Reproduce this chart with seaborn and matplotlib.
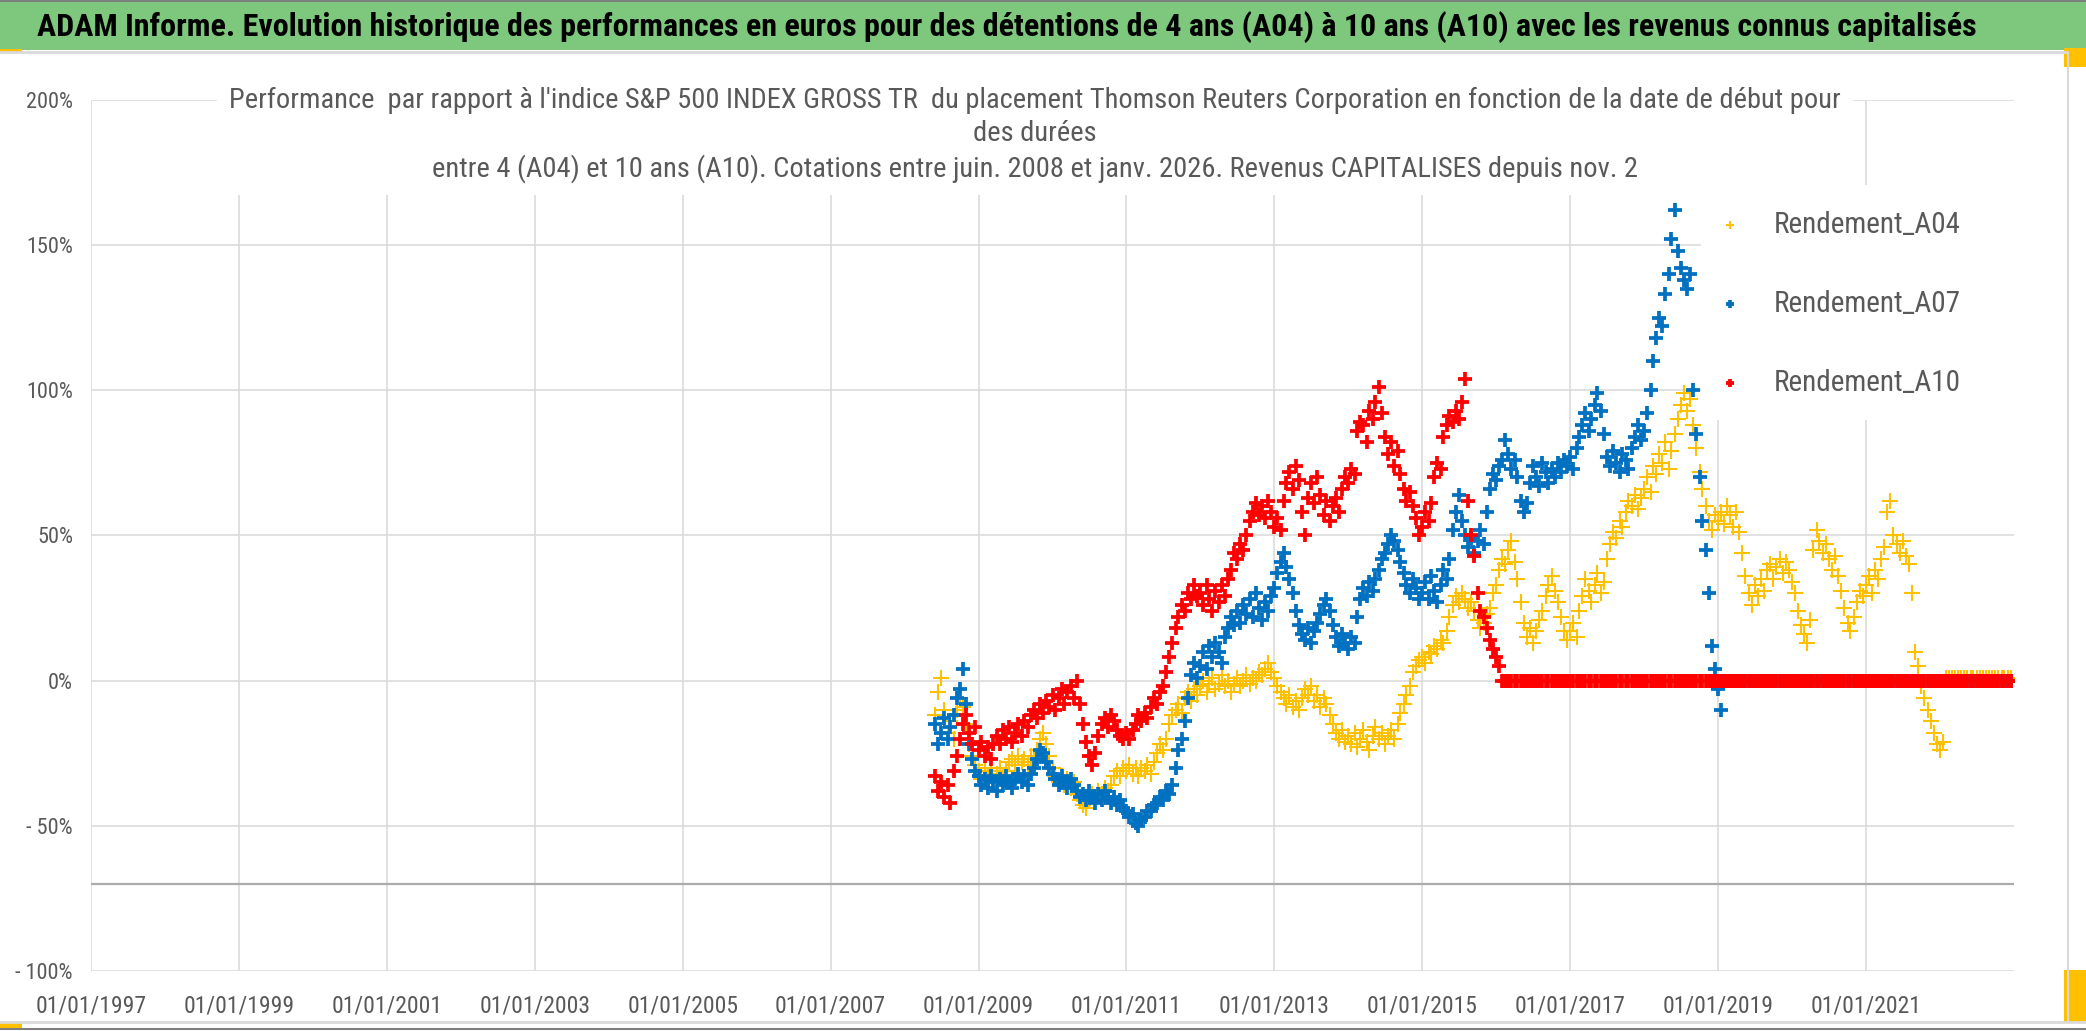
"""Performance chart A04 / A07 / A10 vs S&P 500 (Thomson Reuters)."""

import matplotlib
matplotlib.use("Agg")

import matplotlib.pyplot as plt
import pandas as pd
import seaborn as sns
from matplotlib import font_manager
from matplotlib.lines import Line2D
from matplotlib.patches import Rectangle

# ---------------------------------------------------------------- data
header_text = ("ADAM Informe. Evolution historique des performances en euros pour des "
               "détentions de 4 ans (A04) à 10 ans (A10) avec les revenus connus capitalisés")
chart_title = ("Performance  par rapport à l'indice S&P 500 INDEX GROSS TR  du placement "
               "Thomson Reuters Corporation en fonction de la date de début pour\n"
               "des durées\n"
               "entre 4 (A04) et 10 ans (A10). Cotations entre juin. 2008 et janv. 2026. "
               "Revenus CAPITALISES depuis nov. 2")

series_names = ["Rendement_A04", "Rendement_A07", "Rendement_A10"]
series_colors = ["#FFC000", "#0070C0", "#FF0000"]

# start dates: 1st and 15th of each month, juin 2008 -> déc. 2022
first_date = "2008-06-01"
last_date = "2022-12-15"

# performance in %, one row per year (2008 starts in June)
rendement_a04 = [
    -12, -4, 1, -10, -18, -14, -20, -10, -6, -9, -15, -22, -26, -29,
    -31, -34, -30, -33, -31, -35, -32, -30, -33, -31, -28, -27, -29, -26, -28, -27, -29, -26, -27, -24, -20, -18, -22, -26,
    -30, -33, -35, -33, -36, -34, -37, -35, -39, -41, -43, -44, -41, -39, -40, -38, -39, -37, -38, -36, -33, -31, -33, -30,
    -31, -29, -32, -30, -33, -30, -31, -29, -32, -28, -25, -22, -24, -20, -15, -12, -10, -8, -11, -6, -4, -7, -3, -5,
    -2, 0, -4, -1, 1, -3, -1, 2, -2, 0, -4, -1, 1, -2, 0, 2, -1, 1, 0, 3, 2, 4, 6, 3,
    1, -2, -4, -6, -8, -5, -9, -7, -10, -6, -3, -5, -2, -7, -5, -9, -6, -8, -12, -15, -18, -20, -17, -21,
    -19, -22, -18, -23, -20, -17, -21, -24, -19, -16, -20, -18, -22, -19, -17, -20, -15, -11, -8, -5, -2, 3, 5, 7,
    8, 6, 10, 9, 12, 11, 14, 13, 17, 22, 26, 29, 27, 30, 28, 25, 27, 24, 21, 18, 20, 23, 25, 30,
    33, 38, 42, 40, 45, 48, 41, 35, 27, 20, 15, 18, 13, 17, 21, 24, 29, 33, 36, 31, 27, 22, 17, 14,
    17, 20, 15, 24, 29, 35, 31, 27, 33, 37, 30, 34, 42, 47, 51, 49, 55, 53, 58, 62, 60, 64, 59, 63,
    66, 70, 65, 74, 71, 78, 75, 82, 73, 79, 85, 90, 95, 99, 93, 97, 88, 80, 72, 66, 60, 55, 52, 57,
    55, 58, 54, 60, 57, 53, 58, 51, 44, 36, 30, 26, 33, 29, 35, 31, 38, 40, 35, 39, 42, 37, 41, 38,
    34, 30, 24, 19, 16, 13, 21, 45, 52, 48, 44, 47, 42, 38, 43, 36, 31, 25, 20, 17, 22, 27, 31, 29,
    33, 36, 30, 38, 35, 42, 46, 58, 62, 50, 47, 44, 48, 43, 40, 30, 10, 5, -2, -6, -10, -14, -18, -22,
    -24, -21, 1, 1, 1, 1, 1, 1, 1, 1, 1, 1, 1, 1, 1, 1, 1, 1, 1, 1, 1, 1, 1, 1,
]

rendement_a07 = [
    -15, -22, -18, -13, -20, -16, -12, -6, -3, 4, -8, -22, -27, -31,
    -33, -36, -34, -37, -33, -35, -38, -34, -36, -33, -35, -37, -34, -32, -35, -33, -36, -32, -30, -27, -24, -25, -28, -30,
    -32, -34, -36, -33, -35, -37, -34, -36, -38, -40, -39, -41, -38, -40, -42, -39, -41, -38, -40, -42, -40, -43, -41, -44,
    -45, -47, -46, -49, -50, -48, -47, -45, -45, -43, -42, -40, -41, -38, -39, -36, -30, -24, -20, -14, -6, 2, 6, 1,
    5, 10, 4, 12, 8, 13, 10, 6, 15, 18, 22, 19, 24, 20, 26, 23, 28, 22, 30, 25, 21, 27, 24, 29,
    32, 37, 41, 44, 39, 35, 30, 24, 19, 16, 14, 18, 13, 17, 20, 23, 26, 28, 24, 19, 15, 12, 16, 13,
    11, 15, 13, 22, 28, 32, 29, 34, 31, 35, 38, 42, 44, 47, 50, 48, 45, 41, 37, 33, 30, 35, 32, 28,
    30, 34, 28, 36, 31, 27, 33, 38, 35, 42, 52, 58, 64, 55, 50, 46, 49, 44, 48, 52, 47, 58, 66, 71,
    69, 74, 76, 83, 78, 73, 76, 70, 62, 58, 61, 68, 74, 70, 67, 75, 72, 68, 73, 70, 75, 72, 76, 74,
    77, 73, 80, 84, 88, 92, 86, 90, 95, 99, 93, 85, 77, 74, 79, 75, 72, 78, 76, 73, 80, 84, 88, 83,
    86, 92, 100, 110, 118, 125, 122, 133, 140, 152, 162, 148, 142, 138, 135, 140, 100, 85, 70, 55, 45, 30, 12, 4,
    -3, -10, 0, 0, 0, 0, 0, 0, 0, 0, 0, 0, 0, 0, 0, 0, 0, 0, 0, 0, 0, 0, 0, 0,
    0, 0, 0, 0, 0, 0, 0, 0, 0, 0, 0, 0, 0, 0, 0, 0, 0, 0, 0, 0, 0, 0, 0, 0,
    0, 0, 0, 0, 0, 0, 0, 0, 0, 0, 0, 0, 0, 0, 0, 0, 0, 0, 0, 0, 0, 0, 0, 0,
    0, 0, 0, 0, 0, 0, 0, 0, 0, 0, 0, 0, 0, 0, 0, 0, 0, 0, 0, 0, 0, 0, 0, 0,
]

rendement_a10 = [
    -33, -38, -35, -40, -36, -42, -31, -26, -20, -15, -12, -18, -22, -16,
    -24, -21, -26, -23, -27, -22, -19, -22, -17, -20, -16, -21, -18, -15, -19, -14, -16, -12, -10, -13, -8, -11, -7, -9,
    -5, -10, -6, -3, -8, -4, -2, -6, 0, -8, -15, -21, -26, -29, -25, -19, -15, -13, -16, -12, -14, -17, -19, -20,
    -18, -20, -17, -15, -12, -14, -11, -13, -9, -6, -8, -4, -2, 3, 8, 13, 18, 22, 26, 24, 30, 28, 33, 29,
    30, 26, 33, 28, 24, 31, 27, 33, 29, 35, 38, 44, 42, 47, 45, 50, 55, 58, 61, 57, 60, 56, 62, 58,
    53, 56, 52, 62, 68, 72, 66, 74, 69, 58, 50, 63, 68, 61, 70, 64, 57, 62, 55, 60, 63, 58, 66, 70,
    68, 73, 71, 86, 89, 88, 82, 93, 90, 96, 101, 92, 84, 78, 82, 74, 79, 71, 66, 62, 65, 60, 56, 50,
    53, 58, 55, 61, 70, 75, 73, 84, 88, 91, 89, 93, 90, 96, 104, 62, 50, 43, 30, 24, 22, 18, 14, 11,
    8, 5, 0, 0, 0, 0, 0, 0, 0, 0, 0, 0, 0, 0, 0, 0, 0, 0, 0, 0, 0, 0, 0, 0,
    0, 0, 0, 0, 0, 0, 0, 0, 0, 0, 0, 0, 0, 0, 0, 0, 0, 0, 0, 0, 0, 0, 0, 0,
    0, 0, 0, 0, 0, 0, 0, 0, 0, 0, 0, 0, 0, 0, 0, 0, 0, 0, 0, 0, 0, 0, 0, 0,
    0, 0, 0, 0, 0, 0, 0, 0, 0, 0, 0, 0, 0, 0, 0, 0, 0, 0, 0, 0, 0, 0, 0, 0,
    0, 0, 0, 0, 0, 0, 0, 0, 0, 0, 0, 0, 0, 0, 0, 0, 0, 0, 0, 0, 0, 0, 0, 0,
    0, 0, 0, 0, 0, 0, 0, 0, 0, 0, 0, 0, 0, 0, 0, 0, 0, 0, 0, 0, 0, 0, 0, 0,
    0, 0, 0, 0, 0, 0, 0, 0, 0, 0, 0, 0, 0, 0, 0, 0, 0, 0, 0, 0, 0, 0, 0, 0,
]

x_tick_years = [1997, 1999, 2001, 2003, 2005, 2007, 2009, 2011, 2013, 2015, 2017, 2019, 2021]
x_tick_labels = ["01/01/%d" % y for y in x_tick_years]
y_ticks = [-100, -50, 0, 50, 100, 150, 200]
y_tick_labels = ["- 100%", "- 50%", "0%", "50%", "100%", "150%", "200%"]

# ---------------------------------------------------------------- style
sns.set_style("white")
installed = {f.name for f in font_manager.fontManager.ttflist}
narrow = next((f for f in ["Liberation Sans Narrow", "Roboto Condensed", "Open Sans Condensed"]
               if f in installed), "DejaVu Sans")
plt.rcParams["font.family"] = [narrow, "DejaVu Sans"]

GREY_TXT = "#595959"
GRID = "#D9D9D9"

W, H = 2086, 1031
fig = plt.figure(figsize=(W / 100, H / 100), dpi=100)
fig.patch.set_facecolor("white")

# plot area in pixels: x 91..2014, y 99.8 (200%) .. 971 (-100%)
ax = fig.add_axes([91 / W, 1 - 971 / H, (2014 - 91) / W, (971 - 99.8) / H])

dates = pd.date_range(first_date, last_date, freq="SMS")
df = pd.DataFrame({"date": dates, series_names[0]: rendement_a04,
                   series_names[1]: rendement_a07, series_names[2]: rendement_a10})

sizes = [130, 110, 110]
widths = [1.5, 2.7, 2.7]
for name, col, s, lw in zip(series_names, series_colors, sizes, widths):
    sns.scatterplot(data=df, x="date", y=name, ax=ax, color=col, marker="+",
                    s=s, linewidth=lw, label=name, zorder=2)

ax.set_xlim(pd.Timestamp("1997-01-01"), pd.Timestamp("2023-01-01"))
ax.set_ylim(-100, 200)
ax.set_xticks(pd.to_datetime(["%d-01-01" % y for y in x_tick_years]))
ax.set_xticklabels(x_tick_labels)
ax.set_yticks(y_ticks)
ax.set_yticklabels(y_tick_labels)
ax.set_xlabel("")
ax.set_ylabel("")
ax.tick_params(axis="x", labelsize=17, labelcolor=GREY_TXT, length=0, pad=17)
ax.tick_params(axis="y", labelsize=16, labelcolor=GREY_TXT, length=0, pad=13)
ax.grid(True, color=GRID, linewidth=1.1)
ax.set_axisbelow(True)
for sp in ax.spines.values():
    sp.set_visible(False)

# horizontal axis line crosses at -70 %
ax.axhline(-70, color="#ABABAB", linewidth=1.6, zorder=1)

# legend area (white box hiding the grid)
ax.add_patch(Rectangle((0.837, 0.632), 0.17, 0.27, transform=ax.transAxes,
                       facecolor="white", edgecolor="none", zorder=1.5, clip_on=False))
ax.legend(loc="upper left", bbox_to_anchor=(0.837, 0.893), frameon=False, fontsize=21,
          labelcolor=GREY_TXT, handlelength=0.8, handletextpad=1.1, labelspacing=1.75,
          borderpad=0.6, borderaxespad=0, markerscale=0.55)

# green header band
fig.add_artist(Rectangle((0, 1 - 50 / H), 1, 50 / H, transform=fig.transFigure,
                         facecolor="#7DC87D", edgecolor="none", zorder=0))
fig.text(37 / W, 1 - 27 / H, header_text, ha="left", va="center", fontsize=23,
         fontweight="bold", color="black", zorder=5)

# chart title with white box over the grid
fig.text(1035 / W, 1 - 135 / H, chart_title, ha="center", va="center", fontsize=20.5,
         color=GREY_TXT, linespacing=1.3, zorder=5,
         bbox=dict(facecolor="white", edgecolor="none", pad=9))

# frame lines and selection handles
fig.add_artist(Line2D([0, 1], [1 - 1 / H] * 2, color="#7F7F7F", linewidth=1.5))
fig.add_artist(Line2D([0, 2066 / W], [1 - 52 / H] * 2, color=GRID, linewidth=2))
fig.add_artist(Line2D([2068 / W] * 2, [1 - 52 / H, 1 - 1022 / H], color=GRID, linewidth=1.5))
fig.add_artist(Line2D([0, 1], [1 - 1022 / H] * 2, color=GRID, linewidth=2))
fig.add_artist(Line2D([0, 1], [1 - 1029 / H] * 2, color="#7F7F7F", linewidth=1.5))
for x0, y0, w, h in [(0, 49, 22, 4), (2064, 48, 22, 19), (2064, 970, 22, 53), (0, 1023, 22, 7)]:
    fig.add_artist(Rectangle((x0 / W, 1 - (y0 + h) / H), w / W, h / H, transform=fig.transFigure,
                             facecolor="#FFC000", edgecolor="none"))

fig.savefig("out.png", dpi=100)
